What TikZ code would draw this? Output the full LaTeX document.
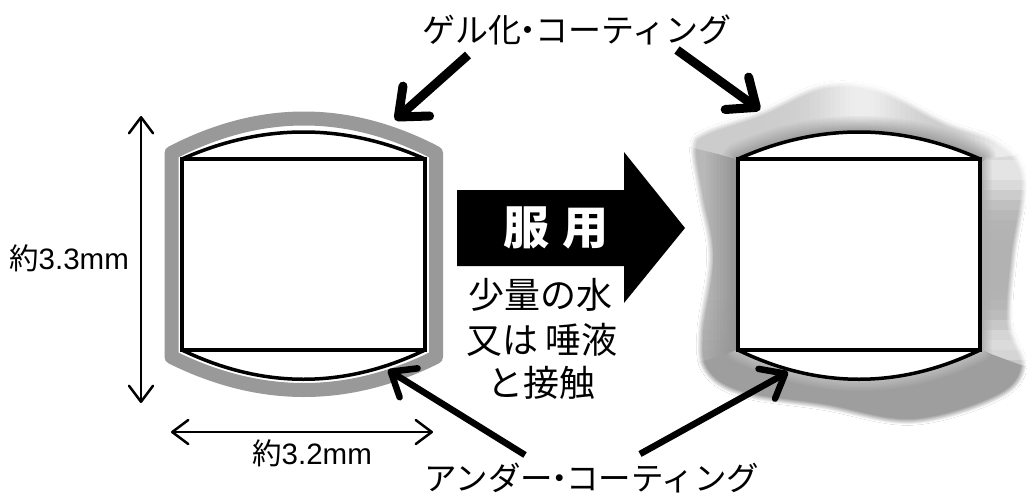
\documentclass[tikz,border=0pt]{standalone}
\usepackage{fontspec}
\setmainfont{Liberation Sans}
\newfontfamily\jp{Noto Sans CJK JP}
\usetikzlibrary{arrows.meta}
\tikzset{
  lbl/.style={inner sep=0pt,font=\jp\fontsize{33}{33}\selectfont,text=black},
  noteline/.style={inner sep=0pt,font=\jp\fontsize{36}{36}\selectfont,text=black},
  dimtext/.style={inner sep=0pt,font=\fontsize{29.5}{29.5}\selectfont,text=black},
  dimarrow/.style={line width=2.5pt,{Straight Barb[length=16pt,width=24pt,round]}-{Straight Barb[length=16pt,width=24pt,round]}},
  pointer/.style={line width=9pt,-{Straight Barb[length=24pt,width=40pt,round]}},
  thinpointer/.style={line width=6.5pt,-{Straight Barb[length=21pt,width=34pt,round]}},
  tabletline/.style={line width=3.5pt,line join=miter,draw=black},
}
\definecolor{coatgray}{gray}{0.6}
\def\blobpath{plot[smooth cycle,tension=0.6] coordinates{
 (690,147) (703,130) (760,110) (823,83) (880,87) (947,120) (1000,140) (1027,177)
 (1017,257) (1013,323) (1027,367) (1000,400) (913,425) (823,410) (740,397)
 (703,373) (697,333) (707,257) (697,197)}}
\def\tabletpath{(738,159) .. controls (818,123) and (900,123) .. (980,159)
   -- (980,350) .. controls (900,389) and (818,389) .. (738,350) -- cycle}
% #1 region polygon, #2 base grey, #3 grey next to the tablet, #4 halo half width, #5 rim half width
\newcommand\gelzone[5]{%
\begin{scope}
\clip \blobpath;
\clip #1;
\definecolor{zbase}{gray}{#2}
\fill[zbase] (670,60) rectangle (1040,445);
\foreach \i in {1,...,9} {
  \pgfmathsetmacro\gv{#2+(#3-#2)*\i/9}
  \pgfmathsetmacro\gw{2*#4*(1-(\i-1)/9)}
  \definecolor{tmpg}{gray}{\gv}
  \draw[draw=tmpg,line width=\gw pt,line join=round] \tabletpath;
}
\foreach \i in {1,...,7} {
  \pgfmathsetmacro\gv{#2+(1-#2)*\i/7}
  \pgfmathsetmacro\gw{2*#5*(1-(\i-1)/7)}
  \definecolor{tmpg}{gray}{\gv}
  \draw[draw=tmpg,line width=\gw pt] \blobpath;
}
\end{scope}}
\begin{document}
\begin{tikzpicture}[x=1pt,y=-1pt]
\useasboundingbox (0,0) rectangle (1027,495);
\fill[white] (0,0) rectangle (1027,495);
% left coating
\draw[line width=14pt,draw=coatgray,line join=round]
  (171.5,153) .. controls (260,107) and (348,107) .. (436,153)
  -- (436,357) .. controls (348,401) and (260,401) .. (171.5,357) -- cycle;
% left tablet
\draw[tabletline] (182,159) rectangle (425,350);
\draw[tabletline] (182,159) .. controls (263,123) and (344,123) .. (425,159);
\draw[tabletline] (182,350) .. controls (263,389) and (344,389) .. (425,350);
% gel: left side
\foreach \y in {130,140,...,380} {
  \pgfmathsetmacro\cc{\y<290 ? .72 : .72-.08*(\y-290)/90}
  \pgfmathsetmacro\ye{\y+10.5}
  \gelzone{(670,\y) rectangle (745,\ye)}{\cc}{.58}{32}{6}
}
% gel: right side
\foreach \y in {130,140,...,380} {
  \pgfmathsetmacro\cc{.70+.20*exp(-((\y-165)/30)^2)+.16*exp(-((\y-340)/25)^2)}
  \pgfmathsetmacro\ye{\y+10.5}
  \gelzone{(975,\y) rectangle (1040,\ye)}{\cc}{.68}{12}{6}
}
% gel: bottom side
\gelzone{(670,372) -- (738,350) -- (980,350) -- (1040,372) -- (1040,445) -- (670,445) -- cycle}{.62}{.74}{12}{6}
% gel: top side
\foreach \x in {670,675,...,1030} {
  \pgfmathsetmacro\cc{.80+.13*exp(-((\x-860)/45)^2)+.12*exp(-((\x-1000)/28)^2)}
  \pgfmathsetmacro\xe{\x+5.5}
  \pgfmathsetmacro\ya{\x<738 ? 147+(\x-690)*.25 : (\x>980 ? 159-(\x-980)*.1 : 165)}
  \pgfmathsetmacro\yb{\xe<738 ? 147+(\xe-690)*.25 : (\xe>980 ? 159-(\xe-980)*.1 : 165)}
  \gelzone{(\x,60) -- (\xe,60) -- (\xe,\yb) -- (\x,\ya) -- cycle}{\cc}{.62}{16}{6}
}
% right tablet
\fill[white] \tabletpath;
\draw[tabletline] (738,159) rectangle (980,350);
\draw[tabletline] (738,159) .. controls (818,123) and (900,123) .. (980,159);
\draw[tabletline] (738,350) .. controls (818,389) and (900,389) .. (980,350);
% big arrow
\fill[black] (457,190) -- (624,190) -- (624,152) -- (685,228) -- (624,303) -- (624,266) -- (457,266) -- cycle;
\node[inner sep=0pt,text=white,font=\jp\bfseries\fontsize{46}{46}\selectfont] (fukuyo) at (556,228) {服\hspace{0.3em}用};
% labels
\node[lbl] (gel) at (577,30) {ゲル化\hspace{-.3em}・\hspace{-.3em}コーティング};
\node[lbl,font=\jp\fontsize{32.5}{32.5}\selectfont] (under) at (592,478) {アンダー\hspace{-.3em}・\hspace{-.3em}コーティング};
\node[noteline] (w1) at (540,295) {少量の水};
\node[noteline] (w2) at (542,340) {又は\hspace{0.2em}唾液};
\node[noteline] (w3) at (541,383) {と接触};
\node[dimtext] (h) at (69,258) {{\jp 約}3.3mm};
\node[dimtext] (wd) at (312,453) {{\jp 約}3.2mm};
% connector ends
\coordinate (g1) at (468,55); \coordinate (g1t) at (395,120);
\coordinate (g2) at (677,50); \coordinate (g2t) at (760,110);
\coordinate (u1) at (525,455); \coordinate (u1t) at (388,370);
\coordinate (u2) at (640,454); \coordinate (u2t) at (788,372);
\coordinate (v1) at (141,116); \coordinate (v2) at (141,403);
\coordinate (h1) at (171,432); \coordinate (h2) at (433,432);
\draw[pointer] (g1) -- (g1t);
\draw[pointer] (g2) -- (g2t);
\draw[thinpointer] (u1) -- (u1t);
\draw[thinpointer] (u2) -- (u2t);
\draw[dimarrow] (v1) -- (v2);
\draw[dimarrow] (h1) -- (h2);
\end{tikzpicture}
\end{document}
